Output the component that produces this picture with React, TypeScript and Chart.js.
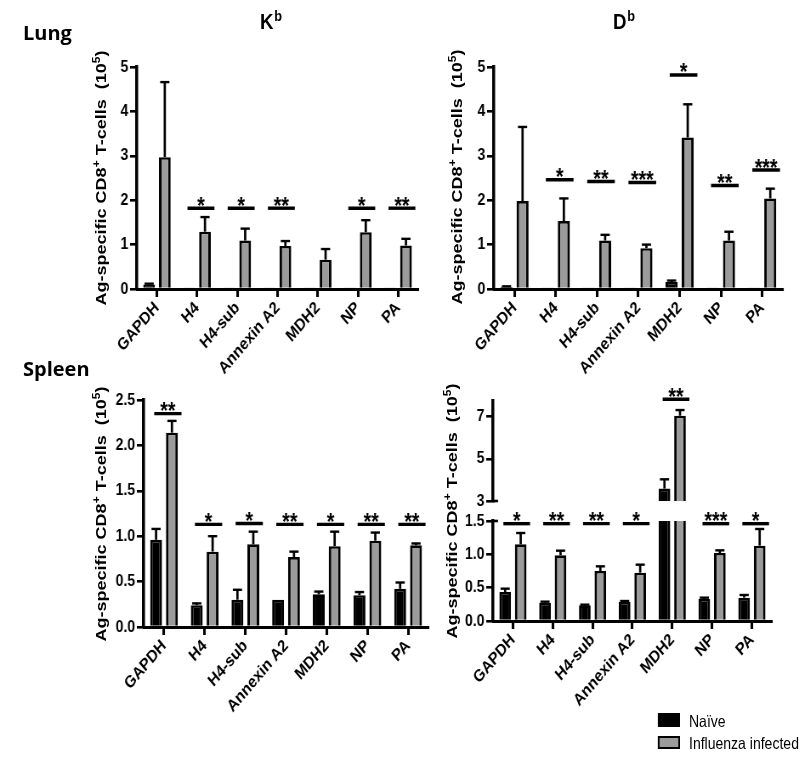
import React, { useEffect, useRef } from 'react';
import { Chart, registerables } from 'chart.js';

Chart.register(...registerables);

const FONT = "'Liberation Sans', Arial, Helvetica, sans-serif";
Chart.defaults.font.family = FONT;

// horizontal squeeze of the whole figure (the reference is narrower than tall)
const S = 0.85;

// ---------- data ----------
const categories = ['GAPDH', 'H4', 'H4-sub', 'Annexin A2', 'MDH2', 'NP', 'PA'];
const seriesNames = ['Naïve', 'Influenza infected'];

// Lung, K^b
const lungKbNaive = [0.1, 0.02, 0.02, 0.02, 0.01, 0.02, 0.02];
const lungKbNaiveSem = [0.02, 0, 0, 0, 0, 0, 0];
const lungKbInfected = [2.97, 1.29, 1.09, 0.97, 0.66, 1.28, 0.98];
const lungKbInfectedSem = [1.69, 0.33, 0.27, 0.11, 0.24, 0.27, 0.15];
const lungKbSig = ['', '*', '*', '**', '', '*', '**'];
const lungKbSigY = [null, 1.82, 1.82, 1.82, null, 1.82, 1.82];
const lungKbTicks = [0, 1, 2, 3, 4, 5];

// Lung, D^b
const lungDbNaive = [0.05, 0.01, 0.01, 0.01, 0.16, 0.01, 0.01];
const lungDbNaiveSem = [0.01, 0, 0, 0, 0.03, 0, 0];
const lungDbInfected = [1.98, 1.53, 1.09, 0.92, 3.41, 1.09, 2.04];
const lungDbInfectedSem = [1.67, 0.51, 0.13, 0.08, 0.75, 0.2, 0.22];
const lungDbSig = ['', '*', '**', '***', '*', '**', '***'];
const lungDbSigY = [null, 2.46, 2.42, 2.4, 4.82, 2.33, 2.68];
const lungDbTicks = [0, 1, 2, 3, 4, 5];

// Spleen, K^b
const spleenKbNaive = [0.96, 0.24, 0.3, 0.3, 0.36, 0.35, 0.42];
const spleenKbNaiveSem = [0.12, 0.02, 0.11, 0, 0.03, 0.035, 0.07];
const spleenKbInfected = [2.14, 0.83, 0.91, 0.77, 0.89, 0.95, 0.9];
const spleenKbInfectedSem = [0.13, 0.17, 0.14, 0.06, 0.16, 0.09, 0.02];
const spleenKbSig = ['**', '*', '*', '**', '*', '**', '**'];
const spleenKbSigY = [2.35, 1.13, 1.14, 1.13, 1.13, 1.13, 1.13];
const spleenKbTicks = [0, 0.5, 1, 1.5, 2, 2.5];

// Spleen, D^b (broken axis)
const spleenDbNaive = [0.435, 0.275, 0.235, 0.285, 3.59, 0.33, 0.35];
const spleenDbNaiveSem = [0.05, 0.015, 0.01, 0.015, 0.44, 0.02, 0.04];
const spleenDbInfected = [1.15, 0.985, 0.75, 0.725, 7.05, 1.02, 1.13];
const spleenDbInfectedSem = [0.17, 0.07, 0.07, 0.12, 0.27, 0.04, 0.25];
const spleenDbSig = ['*', '**', '**', '*', '**', '***', '*'];
const spleenDbSigY = [1.46, 1.46, 1.46, 1.46, 7.83, 1.46, 1.46];
const spleenDbLowTicks = [0, 0.5, 1, 1.5];
const spleenDbHighTicks = [3, 5, 7];

// ---------- styling ----------
const GRAY = '#9b9b9b';
const YW = 42; // y-axis box width (design px)
const PT = 25;
const PR = 14;
const XH = 90;

type Spec = {
  naive: number[];
  naiveSem: number[];
  inf: number[];
  infSem: number[];
  sig: string[];
  sigY: (number | null)[];
  min: number;
  max: number;
  ticks: number[];
  decimals: number;
  showX: boolean;
  padBottom: number;
  breakCap: '' | 'top' | 'bottom';
};

function annotPlugin(spec: Spec) {
  return {
    id: 'annot',
    afterDatasetsDraw(chart: any) {
      const ctx = chart.ctx;
      const area = chart.chartArea;
      const xs = chart.scales.x;
      const ys = chart.scales.y;
      const cap = 4.6 / S;
      // error bars
      ctx.save();
      ctx.beginPath();
      ctx.rect(area.left - 10, area.top, area.right - area.left + 20, area.bottom - area.top);
      ctx.clip();
      ctx.strokeStyle = '#000';
      [spec.naiveSem, spec.infSem].forEach((sem, di) => {
        const meta = chart.getDatasetMeta(di);
        const data = chart.data.datasets[di].data as number[];
        meta.data.forEach((el: any, j: number) => {
          const s = sem[j];
          if (!s) return;
          const v = data[j];
          const y1 = ys.getPixelForValue(v);
          const y2 = ys.getPixelForValue(v + s);
          ctx.lineWidth = 2.3 / S;
          ctx.beginPath();
          ctx.moveTo(el.x, y1);
          ctx.lineTo(el.x, y2);
          ctx.stroke();
          ctx.lineWidth = 2.4;
          ctx.beginPath();
          ctx.moveTo(el.x - cap, y2);
          ctx.lineTo(el.x + cap, y2);
          ctx.stroke();
        });
      });
      ctx.restore();
      // significance bars
      ctx.save();
      ctx.strokeStyle = '#000';
      ctx.fillStyle = '#000';
      ctx.lineWidth = 3.4;
      ctx.font = `bold 23px ${FONT}`;
      ctx.textAlign = 'center';
      ctx.textBaseline = 'alphabetic';
      const cw = (xs.right - xs.left) / categories.length;
      const range = ys.max - ys.min;
      spec.sigY.forEach((v, i) => {
        if (v == null) return;
        if (v < ys.min || v > ys.max + 0.1 * range) return;
        const cx = xs.getPixelForValue(i);
        const l = cx - 0.24 * cw;
        const r = cx + 0.43 * cw;
        const py = ys.getPixelForValue(v);
        ctx.beginPath();
        ctx.moveTo(l, py);
        ctx.lineTo(r, py);
        ctx.stroke();
        ctx.fillText(spec.sig[i], (l + r) / 2, py + 5.5);
      });
      // axis-break caps
      if (spec.breakCap) {
        const yy = spec.breakCap === 'top' ? area.top : area.bottom;
        ctx.lineWidth = 2.6;
        ctx.beginPath();
        ctx.moveTo(area.left, yy);
        ctx.lineTo(area.left + 5 / S, yy);
        ctx.stroke();
      }
      ctx.restore();
    },
  };
}

function makeConfig(spec: Spec): any {
  const barCommon = {
    categoryPercentage: 0.78,
    barPercentage: 0.75,
    borderColor: '#000',
    borderWidth: { top: 2.6, left: 2.6 / S, right: 2.6 / S, bottom: 0 },
    borderSkipped: 'start',
    clip: 0,
  };
  return {
    type: 'bar',
    data: {
      labels: categories,
      datasets: [
        { label: seriesNames[0], data: spec.naive, backgroundColor: '#000', ...barCommon },
        { label: seriesNames[1], data: spec.inf, backgroundColor: GRAY, ...barCommon },
      ],
    },
    options: {
      responsive: false,
      maintainAspectRatio: false,
      animation: false,
      devicePixelRatio: 1,
      events: [],
      layout: { padding: { top: PT, right: PR, bottom: spec.padBottom, left: 0 } },
      plugins: { legend: { display: false }, tooltip: { enabled: false } },
      scales: {
        x: {
          type: 'category',
          display: spec.showX,
          offset: true,
          grid: {
            offset: false,
            drawOnChartArea: false,
            drawTicks: true,
            tickLength: 8,
            lineWidth: 2.6 / S,
            color: '#000',
          },
          border: { display: true, color: '#000', width: 3 },
          ticks: {
            color: '#000',
            font: { family: FONT, size: 17, weight: 'bold' },
            maxRotation: 45,
            minRotation: 45,
            autoSkip: false,
            padding: 1,
          },
          afterFit: (s: any) => {
            s.height = spec.showX ? XH : 0;
          },
        },
        y: {
          type: 'linear',
          min: spec.min,
          max: spec.max,
          afterBuildTicks: (s: any) => {
            s.ticks = spec.ticks.map((v) => ({ value: v }));
          },
          grid: {
            drawOnChartArea: false,
            drawTicks: true,
            tickLength: 8,
            lineWidth: 2.6,
            color: '#000',
          },
          border: { display: true, color: '#000', width: 3 / S },
          ticks: {
            color: '#000',
            font: { family: FONT, size: 16.5, weight: 'bold' },
            padding: 2,
            autoSkip: false,
            callback: (v: any) => Number(v).toFixed(spec.decimals),
          },
          afterFit: (s: any) => {
            s.width = YW;
          },
        },
      },
    },
    plugins: [annotPlugin(spec)],
  };
}

// chart-area boxes in reference pixel coordinates
type Box = { L: number; T: number; R: number; B: number; xh: number; pb: number };
const boxes: Box[] = [
  { L: 137, T: 67, R: 418, B: 289, xh: XH, pb: 0 },
  { L: 494, T: 67, R: 783, B: 289, xh: XH, pb: 0 },
  { L: 144, T: 400, R: 429, B: 627, xh: XH, pb: 0 },
  { L: 493, T: 521, R: 772, B: 621, xh: XH, pb: 0 },
  { L: 493, T: 401, R: 772, B: 501, xh: 0, pb: 12 },
];

function canvasRect(b: Box) {
  return {
    left: b.L / S - YW,
    top: b.T - PT,
    width: Math.round((b.R - b.L) / S + YW + PR),
    height: Math.round(b.B - b.T + PT + b.xh + b.pb),
  };
}

const specs: Spec[] = [
  {
    naive: lungKbNaive, naiveSem: lungKbNaiveSem, inf: lungKbInfected, infSem: lungKbInfectedSem,
    sig: lungKbSig, sigY: lungKbSigY, min: 0, max: 5, ticks: lungKbTicks, decimals: 0, showX: true, padBottom: 0, breakCap: '',
  },
  {
    naive: lungDbNaive, naiveSem: lungDbNaiveSem, inf: lungDbInfected, infSem: lungDbInfectedSem,
    sig: lungDbSig, sigY: lungDbSigY, min: 0, max: 5, ticks: lungDbTicks, decimals: 0, showX: true, padBottom: 0, breakCap: '',
  },
  {
    naive: spleenKbNaive, naiveSem: spleenKbNaiveSem, inf: spleenKbInfected, infSem: spleenKbInfectedSem,
    sig: spleenKbSig, sigY: spleenKbSigY, min: 0, max: 2.5, ticks: spleenKbTicks, decimals: 1, showX: true, padBottom: 0, breakCap: '',
  },
  {
    naive: spleenDbNaive, naiveSem: spleenDbNaiveSem, inf: spleenDbInfected, infSem: spleenDbInfectedSem,
    sig: spleenDbSig, sigY: spleenDbSigY, min: 0, max: 1.5, ticks: spleenDbLowTicks, decimals: 1, showX: true, padBottom: 0, breakCap: 'top',
  },
  {
    naive: spleenDbNaive, naiveSem: spleenDbNaiveSem, inf: spleenDbInfected, infSem: spleenDbInfectedSem,
    sig: spleenDbSig, sigY: spleenDbSigY, min: 3, max: 7.75, ticks: spleenDbHighTicks, decimals: 0, showX: false, padBottom: 12, breakCap: 'bottom',
  },
];

const supStyle: React.CSSProperties = { fontSize: 12, position: 'relative', top: -7 };

function YTitle({ cx, cy }: { cx: number; cy: number }) {
  return (
    <div
      style={{
        position: 'absolute',
        left: cx / S,
        top: cy,
        transform: 'translate(-50%, -50%) rotate(-90deg)',
        whiteSpace: 'nowrap',
        font: `bold 18px ${FONT}`,
        lineHeight: '20px',
        color: '#000',
      }}
    >
      Ag-specific CD8<span style={supStyle}>+</span> T-cells&nbsp;&nbsp;(10<span style={supStyle}>5</span>)
    </div>
  );
}

function Heading({ x, letter }: { x: number; letter: string }) {
  return (
    <div
      style={{
        position: 'absolute',
        left: x / S,
        top: 11,
        font: `bold 22px ${FONT}`,
        lineHeight: '22px',
        whiteSpace: 'nowrap',
        color: '#000',
      }}
    >
      {letter}
      <span style={{ fontSize: 15, position: 'relative', top: -8, marginLeft: 1 }}>b</span>
    </div>
  );
}

export default function App() {
  const refs = useRef<(HTMLCanvasElement | null)[]>([]);

  useEffect(() => {
    const charts = specs.map((spec, i) => {
      const c = refs.current[i];
      return c ? new Chart(c, makeConfig(spec)) : null;
    });
    return () => {
      charts.forEach((ch) => ch && ch.destroy());
    };
  }, []);

  return (
    <div
      style={{
        position: 'fixed',
        left: 0,
        top: 0,
        width: 800,
        height: 757,
        overflow: 'hidden',
        background: '#fff',
      }}
    >
      <div
        style={{
          position: 'absolute',
          left: 0,
          top: 0,
          width: 800 / S,
          height: 757,
          transform: `scaleX(${S})`,
          transformOrigin: '0 0',
        }}
      >
        {boxes.map((b, i) => {
          const r = canvasRect(b);
          return (
            <canvas
              key={i}
              ref={(el) => {
                refs.current[i] = el;
              }}
              width={r.width}
              height={r.height}
              style={{ position: 'absolute', left: r.left, top: r.top, width: r.width, height: r.height }}
            />
          );
        })}
        <YTitle cx={102} cy={178} />
        <YTitle cx={458} cy={177} />
        <YTitle cx={102} cy={514} />
        <YTitle cx={453} cy={511} />
        <Heading x={260} letter="K" />
        <Heading x={613} letter="D" />
        {/* legend */}
        <div style={{ position: 'absolute', left: 658 / S, top: 713, width: 22 / S, height: 14, background: '#000' }} />
        <div
          style={{
            position: 'absolute',
            left: 658 / S,
            top: 736,
            width: 22 / S,
            height: 13,
            background: GRAY,
            border: `2px solid #000`,
            borderLeftWidth: 2.4 / S,
            borderRightWidth: 2.4 / S,
            boxSizing: 'border-box',
          }}
        />
        <div style={{ position: 'absolute', left: 689 / S, top: 713, font: `16.5px ${FONT}`, lineHeight: '16px', whiteSpace: 'nowrap' }}>
          {seriesNames[0]}
        </div>
        <div style={{ position: 'absolute', left: 689 / S, top: 735, font: `16.5px ${FONT}`, lineHeight: '16px', whiteSpace: 'nowrap' }}>
          {seriesNames[1]}
        </div>
      </div>
      <div style={{ position: 'absolute', left: 23, top: 23, font: "bold 20px 'Open Sans', sans-serif", lineHeight: '20px' }}>Lung</div>
      <div style={{ position: 'absolute', left: 23, top: 359, font: "bold 20px 'Open Sans', sans-serif", lineHeight: '20px' }}>Spleen</div>
    </div>
  );
}
